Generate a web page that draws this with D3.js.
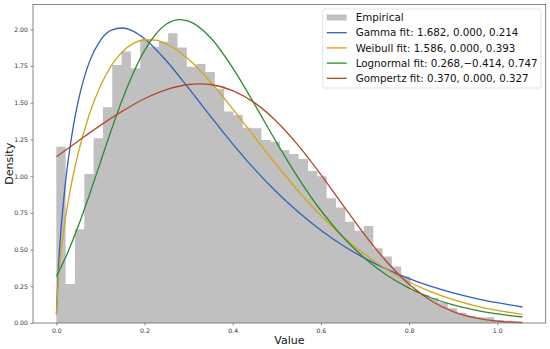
<!DOCTYPE html>
<html>
<head>
<meta charset="utf-8">
<script src="https://cdn.jsdelivr.net/npm/d3@7/dist/d3.min.js"></script>
<style>
  html, body { margin: 0; padding: 0; background: #fff; }
  svg { display: block; font-family: "DejaVu Sans", sans-serif; }
</style>
</head>
<body>
<svg id="chart" width="550" height="349"></svg>
<script>
// ---- Data ----
const histStart = 0.0;
const histEnd = 1.057;
const histDensity = [1.201,0.266,0.638,1.015,1.258,1.469,1.757,1.848,1.735,1.928,
  1.882,1.916,1.973,1.876,1.745,1.763,1.710,1.595,1.440,1.417,
  1.330,1.326,1.247,1.235,1.178,1.151,1.117,1.035,1.000,0.849,
  0.786,0.690,0.629,0.661,0.509,0.452,0.384,0.316,0.220,0.190,
  0.170,0.140,0.100,0.070,0.050,0.040,0.040,0.020,0.015,0.010];

const gammaX = [0.0003,0.005,0.01,0.02,0.03,0.04,0.05,0.075,0.1,0.125,0.15,0.175,0.2,0.25,0.3,0.35,0.4,0.45,0.5,0.55,0.6,0.65,0.7,0.75,0.8,0.85,0.9,0.95,1.0,1.057];
const gammaY = [0.059,0.389,0.610,0.934,1.174,1.365,1.515,1.778,1.925,1.995,2.009,1.986,1.936,1.784,1.599,1.407,1.220,1.046,0.890,0.752,0.632,0.528,0.440,0.365,0.302,0.249,0.205,0.168,0.138,0.109];

const weibullX = [0.0003,0.005,0.01,0.02,0.03,0.04,0.05,0.075,0.1,0.125,0.15,0.175,0.2,0.225,0.25,0.3,0.35,0.4,0.45,0.5,0.55,0.6,0.65,0.7,0.75,0.8,0.85,0.9,0.95,1.0,1.057];
const weibullY = [0.060,0.313,0.468,0.698,0.879,1.030,1.161,1.422,1.614,1.753,1.847,1.904,1.929,1.926,1.900,1.796,1.641,1.458,1.265,1.074,0.894,0.731,0.588,0.466,0.363,0.279,0.212,0.159,0.117,0.086,0.059];

const lognormX = [0.0003,0.025,0.05,0.075,0.1,0.125,0.15,0.175,0.2,0.225,0.25,0.28,0.3,0.35,0.4,0.45,0.5,0.55,0.6,0.65,0.7,0.75,0.8,0.85,0.9,0.95,1.0,1.057];
const lognormY = [0.318,0.474,0.662,0.872,1.095,1.316,1.523,1.706,1.855,1.966,2.036,2.066,2.055,1.942,1.737,1.487,1.227,0.982,0.766,0.586,0.440,0.325,0.237,0.172,0.123,0.088,0.062,0.041];

const gompertzX = [0.0003,0.05,0.1,0.15,0.2,0.25,0.3,0.325,0.35,0.4,0.45,0.5,0.55,0.6,0.65,0.7,0.75,0.8,0.85,0.9,0.95,1.0,1.057];
const gompertzY = [1.132,1.240,1.346,1.443,1.527,1.589,1.624,1.629,1.624,1.583,1.499,1.371,1.205,1.011,0.803,0.599,0.415,0.264,0.152,0.078,0.035,0.013,0.003];

const xTicks = [0.0,0.2,0.4,0.6,0.8,1.0];
const yTicks = [0.00,0.25,0.50,0.75,1.00,1.25,1.50,1.75,2.00];

const legendLabels = ["Empirical","Gamma fit: 1.682, 0.000, 0.214","Weibull fit: 1.586, 0.000, 0.393","Lognormal fit: 0.268,\u22120.414, 0.747","Gompertz fit: 0.370, 0.000, 0.327"];

// ---- Layout / styles ----
const L = 33, T = 4.5, R = 545.7, B = 323;
const colors = { hist: "#c0c0c0", gamma: "#2f5fbf", weibull: "#d4a419", lognorm: "#2e8a2e", gompertz: "#b4472c" };

const svg = d3.select("#chart");
const span = histEnd - histStart;
const x = d3.scaleLinear().domain([histStart - 0.05*span, histEnd + 0.05*span]).range([L, R]);
const y = d3.scaleLinear().domain([0, 2.0656*1.05]).range([B, T]);

// histogram drawn as one step-shaped area (no seams between bars)
const binW = span / histDensity.length;
const stepPts = [];
histDensity.forEach((d, i) => {
  stepPts.push([histStart + i*binW, d]);
  stepPts.push([histStart + (i+1)*binW, d]);
});
const histArea = d3.area().x(d => x(d[0])).y0(y(0)).y1(d => y(d[1])).curve(d3.curveLinear);
svg.append("path").datum(stepPts).attr("d", histArea).attr("fill", colors.hist);

// curves
const line = d3.line().x(d => x(d[0])).y(d => y(d[1])).curve(d3.curveMonotoneX);
const series = [
  [gammaX, gammaY, colors.gamma],
  [weibullX, weibullY, colors.weibull],
  [lognormX, lognormY, colors.lognorm],
  [gompertzX, gompertzY, colors.gompertz]
];
series.forEach(([xs, ys, c]) => {
  svg.append("path").datum(xs.map((v,i) => [v, ys[i]]))
    .attr("d", line).attr("fill","none").attr("stroke", c).attr("stroke-width", 1.3);
});

// axes
const xAxis = d3.axisBottom(x).tickValues(xTicks).tickFormat(d3.format(".1f")).tickSize(2.5).tickPadding(3);
const yAxis = d3.axisLeft(y).tickValues(yTicks).tickFormat(d3.format(".2f")).tickSize(2.5).tickPadding(2.5);
const gx = svg.append("g").attr("transform", `translate(0,${B})`).call(xAxis);
const gy = svg.append("g").attr("transform", `translate(${L},0)`).call(yAxis);
[gx, gy].forEach(g => {
  g.select(".domain").remove();
  g.selectAll(".tick line").attr("stroke", "#444").attr("stroke-width", 0.6);
  g.selectAll(".tick text").attr("font-size", "6.2px").attr("fill", "#333").attr("font-family", "DejaVu Sans");
});

// frame
svg.append("rect").attr("x", L).attr("y", T).attr("width", R-L).attr("height", B-T)
  .attr("fill","none").attr("stroke","#666").attr("stroke-width",0.8);

// axis labels
svg.append("text").attr("x", (L+R)/2).attr("y", 344).attr("text-anchor","middle")
  .attr("font-size","11px").attr("fill","#111").text("Value");
svg.append("text").attr("transform", `translate(13,${(T+B)/2}) rotate(-90)`).attr("text-anchor","middle")
  .attr("font-size","11px").attr("fill","#111").text("Density");

// legend
const lg = svg.append("g");
lg.append("rect").attr("x", 322.7).attr("y", 9).attr("width", 541-322.7).attr("height", 79)
  .attr("rx", 2).attr("fill","#fff").attr("fill-opacity",0.8).attr("stroke","#d8d8d8").attr("stroke-width",0.7);
const legColors = [colors.hist, colors.gamma, colors.weibull, colors.lognorm, colors.gompertz];
legendLabels.forEach((lab, i) => {
  const cy = 17.5 + i*15.2;
  if (i === 0) {
    lg.append("rect").attr("x", 326.7).attr("y", cy-3).attr("width", 20).attr("height", 6).attr("fill", legColors[i]);
  } else {
    lg.append("line").attr("x1", 326.7).attr("x2", 346.7).attr("y1", cy).attr("y2", cy)
      .attr("stroke", legColors[i]).attr("stroke-width", 1.3);
  }
  lg.append("text").attr("x", 355.7).attr("y", cy).attr("dy","0.35em")
    .attr("font-size","10.3px").attr("fill","#111").text(lab);
});
</script>
</body>
</html>
